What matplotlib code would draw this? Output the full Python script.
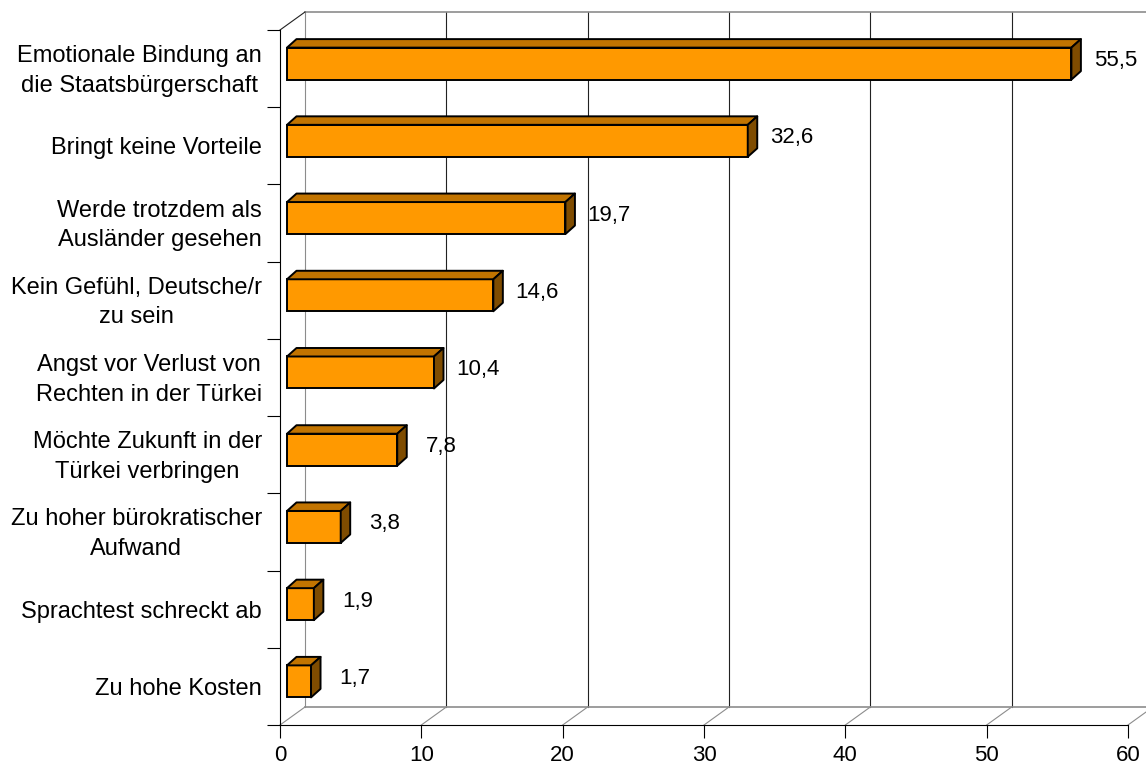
import matplotlib.pyplot as plt
from matplotlib.patches import Polygon
from matplotlib.transforms import ScaledTranslation

plt.rcParams['font.family'] = ['Liberation Sans', 'DejaVu Sans']
plt.rcParams['font.size'] = 16

categories = [
    "Emotionale Bindung an\ndie Staatsbürgerschaft",
    "Bringt keine Vorteile",
    "Werde trotzdem als\nAusländer gesehen",
    "Kein Gefühl, Deutsche/r\nzu sein",
    "Angst vor Verlust von\nRechten in der Türkei",
    "Möchte Zukunft in der\nTürkei verbringen",
    "Zu hoher bürokratischer\nAufwand",
    "Sprachtest schreckt ab",
    "Zu hohe Kosten",
]
values = [55.5, 32.6, 19.7, 14.6, 10.4, 7.8, 3.8, 1.9, 1.7]
xticks = [0, 10, 20, 30, 40, 50, 60]

W, H = 1146, 767
fig = plt.figure(figsize=(W / 100, H / 100), dpi=100)
# front plane of the 3D box, in pixels
x0, x1, ytop, ybot = 280, 1128, 30, 725
ax = fig.add_axes([x0 / W, 1 - ybot / H, (x1 - x0) / W, (ybot - ytop) / H])
ax.set_xlim(0, 60)
ax.set_ylim(8.5, -0.5)

pxx = (x1 - x0) / 60.0
pxy = (ybot - ytop) / 9.0


def dx(p):
    return p / pxx


def dy(p):
    # pixels upward -> data units (y axis inverted)
    return -p / pxy


# back wall offset
wx, wy = dx(25), dy(18)
gray = '#8c8c8c'
kw = dict(clip_on=False, zorder=1)
for v in xticks:
    ax.plot([v + wx, v + wx], [-0.5 + wy, 8.5 + wy],
            color=gray if v == 0 else '#222222', lw=0.8, **kw)
    ax.plot([v, v + wx], [8.5, 8.5 + wy], color=gray, lw=0.8, **kw)
ax.plot([wx, 60 + wx], [-0.5 + wy, -0.5 + wy], color=gray, lw=1.2, **kw)
ax.plot([wx, 60 + wx], [8.5 + wy, 8.5 + wy], color=gray, lw=1.2, **kw)
ax.plot([0, wx], [-0.5, -0.5 + wy], color='#222222', lw=0.8, **kw)

# bars
bx, by = dx(7), dy(5)
h = 32 / pxy
ddx, ddy = dx(9.5), dy(8.5)
pos = list(range(len(values)))
centers = [p + by for p in pos]
ax.barh(centers, values, left=bx, height=h, color='#ff9900',
        edgecolor='black', linewidth=1.4, zorder=3)
for c, v in zip(centers, values):
    t, b = c - h / 2, c + h / 2
    top = [(bx, t), (bx + v, t), (bx + v + ddx, t + ddy), (bx + ddx, t + ddy)]
    side = [(bx + v, t), (bx + v, b), (bx + v + ddx, b + ddy), (bx + v + ddx, t + ddy)]
    ax.add_patch(Polygon(top, closed=True, facecolor='#c27400',
                         edgecolor='black', lw=1.4, zorder=3, joinstyle='round'))
    ax.add_patch(Polygon(side, closed=True, facecolor='#7f4c00',
                         edgecolor='black', lw=1.4, zorder=3, joinstyle='round'))

for p, v in zip(pos, values):
    ax.text(v + 3.6, p + dy(8), f"{v}".replace('.', ','),
            ha='center', va='center', zorder=4)

# axes
for s in ['top', 'right']:
    ax.spines[s].set_visible(False)
ax.spines['left'].set_linewidth(0.8)
ax.spines['bottom'].set_linewidth(0.8)
ax.set_xticks(xticks)
ax.set_xticklabels([str(t) for t in xticks])
ax.tick_params(axis='x', length=9.4, width=0.8, pad=5)
ax.set_yticks(pos)
ax.set_yticklabels(categories, multialignment='center', linespacing=1.45,
                   fontsize=17)
ax.tick_params(axis='y', which='major', length=0, pad=13)
ax.set_yticks([p - 0.5 for p in range(len(values) + 1)], minor=True)
ax.tick_params(axis='y', which='minor', length=9.4, width=0.8)

# two-line labels sit a little high in the original
lift = ScaledTranslation(0, 4 / 100, fig.dpi_scale_trans)
for lbl in ax.get_yticklabels():
    if '\n' in lbl.get_text():
        lbl.set_transform(lbl.get_transform() + lift)

fig.savefig('out.png', dpi=100)
